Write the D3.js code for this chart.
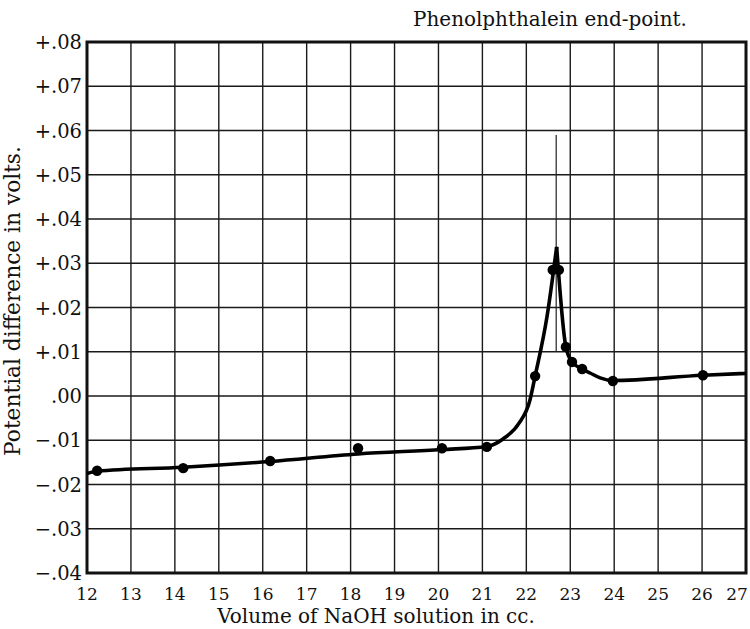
<!DOCTYPE html>
<html><head><meta charset="utf-8">
<script src="https://cdn.jsdelivr.net/npm/d3@7"></script>
<style>body{margin:0;background:#fff}svg{display:block}</style>
</head><body><svg id="c" width="750" height="629"></svg>
<script>
// tick values
const xTicks = [12,13,14,15,16,17,18,19,20,21,22,23,24,25,26,27];
const yTicks = [0.08,0.07,0.06,0.05,0.04,0.03,0.02,0.01,0,-0.01,-0.02,-0.03,-0.04];
const yTickLabels = ["+.08","+.07","+.06","+.05","+.04","+.03","+.02","+.01",".00","\u2212.01","\u2212.02","\u2212.03","\u2212.04"];
// measured points
const pointVol = [12.23,14.19,16.17,18.17,20.08,21.1,22.2,22.6,22.74,22.9,23.04,23.27,23.97,26.02];
const pointPot = [-0.0169,-0.0163,-0.0147,-0.0118,-0.0118,-0.0115,0.0045,0.0285,0.0285,0.0111,0.0077,0.0061,0.0034,0.0047];
// drawn curve (rising branch up to tip, falling branch from tip)
const riseVol = [12.0,12.23,14.19,16.17,18.17,20.08,21.1,21.47,21.83,22.08,22.2,22.47,22.69];
const risePot = [-0.0175,-0.0170,-0.0161,-0.0148,-0.0131,-0.0121,-0.0114,-0.0097,-0.0062,-0.0010,0.0045,0.0179,0.0337];
const fallVol = [22.69,22.9,23.04,23.27,23.45,23.68,23.97,26.02,27.0];
const fallPot = [0.0337,0.0111,0.0077,0.0061,0.0052,0.0041,0.0035,0.0047,0.0051];
// end-point marker
const endPointVol = 22.68;
const endPointPot = [0.059,0.010];

const FONT = "'DejaVu Serif', 'Liberation Serif', serif";
const svg = d3.select("#c");
const x = d3.scaleLinear().domain([12,27]).range([87,746]);
const y = d3.scaleLinear().domain([-0.04,0.08]).range([573,42]);

// grid
svg.append("g").selectAll("line").data(xTicks).join("line")
  .attr("x1",d=>x(d)).attr("x2",d=>x(d)).attr("y1",y(0.08)).attr("y2",y(-0.04))
  .attr("stroke","#1a1a1a").attr("stroke-width",1.4);
svg.append("g").selectAll("line").data(yTicks).join("line")
  .attr("y1",d=>y(d)).attr("y2",d=>y(d)).attr("x1",x(12)).attr("x2",x(27))
  .attr("stroke","#1a1a1a").attr("stroke-width",1.4);
// frame
svg.append("rect").attr("x",x(12)).attr("y",y(0.08)).attr("width",x(27)-x(12)).attr("height",y(-0.04)-y(0.08))
  .attr("fill","none").attr("stroke","#111").attr("stroke-width",3);

// tick labels
svg.append("g").selectAll("text").data(xTicks).join("text")
  .attr("x",d=>d===27 ? x(d)-9 : x(d)).attr("y",600).attr("text-anchor","middle")
  .attr("font-family",FONT).attr("font-size",17).attr("fill","#111").text(d=>d);
svg.append("g").selectAll("text").data(yTicks).join("text")
  .attr("x",82).attr("y",d=>y(d)).attr("dy","0.36em").attr("text-anchor","end")
  .attr("font-family",FONT).attr("font-size",19.5).attr("fill","#111").text((d,i)=>yTickLabels[i]);

// titles, sized to the reference's text widths
function fitText(sel, target){
  const w = sel.node().getComputedTextLength();
  if (w > 0) sel.attr("font-size", 17*target/w);
  return sel;
}
fitText(svg.append("text").attr("x",376).attr("y",623).attr("text-anchor","middle")
  .attr("font-family",FONT).attr("font-size",17).attr("fill","#111")
  .text("Volume of NaOH solution in cc."), 318);
fitText(svg.append("text").attr("transform","translate(20,301) rotate(-90)").attr("text-anchor","middle")
  .attr("font-family",FONT).attr("font-size",17).attr("fill","#111")
  .text("Potential difference in volts."), 310);
fitText(svg.append("text").attr("x",550).attr("y",26).attr("text-anchor","middle")
  .attr("font-family",FONT).attr("font-size",17).attr("fill","#111")
  .text("Phenolphthalein end-point."), 274);

// end-point line
svg.append("line").attr("x1",x(endPointVol)).attr("x2",x(endPointVol))
  .attr("y1",y(endPointPot[0])).attr("y2",y(endPointPot[1])).attr("stroke","#222").attr("stroke-width",1.2);

// curve
const line = d3.line().x(d=>x(d[0])).y(d=>y(d[1])).curve(d3.curveMonotoneX);
svg.append("path").attr("d",line(d3.zip(riseVol,risePot))).attr("fill","none").attr("stroke","#000").attr("stroke-width",3.6);
svg.append("path").attr("d",line(d3.zip(fallVol,fallPot))).attr("fill","none").attr("stroke","#000").attr("stroke-width",3.6);

// points
svg.append("g").selectAll("circle").data(d3.zip(pointVol,pointPot)).join("circle")
  .attr("cx",d=>x(d[0])).attr("cy",d=>y(d[1])).attr("r",5.2).attr("fill","#000");
</script></body></html>
